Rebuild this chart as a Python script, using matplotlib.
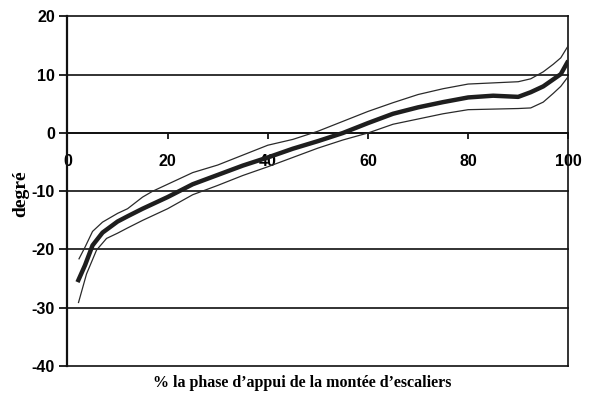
import numpy as np
import matplotlib.pyplot as plt

# moyenne et bandes (+/- écart-type) de l'angle au cours de l'appui
x_moy = [2, 3.5, 5, 7, 10, 12, 15, 20, 25, 30, 35, 40, 45, 50, 55, 60, 65, 70,
         75, 80, 85, 90, 92.5, 95, 97, 98.5, 100]
moy = [-25.6, -22.7, -19.3, -17.1, -15.2, -14.3, -13, -11, -8.8, -7.2, -5.6, -4.2,
       -2.7, -1.4, 0, 1.7, 3.3, 4.4, 5.3, 6.1, 6.4, 6.2, 7, 8, 9.2, 10.1, 12.4]

x_sup = [2.3, 3.5, 5, 7, 10, 12, 15, 17, 20, 25, 30, 35, 40, 45, 50, 55, 60, 65,
         70, 75, 80, 85, 90, 92.5, 95, 97, 98.5, 100]
sup = [-21.6, -19.6, -16.9, -15.3, -13.8, -13, -11, -10, -8.8, -6.8, -5.5, -3.8,
       -2.1, -1.1, 0.3, 2, 3.7, 5.2, 6.6, 7.6, 8.4, 8.6, 8.8, 9.3, 10.5, 11.8, 12.9, 15]

x_inf = [2.2, 3.8, 5.8, 7.8, 10, 12, 15, 20, 25, 30, 35, 40, 45, 50, 55, 60, 65,
         70, 75, 80, 85, 90, 92.5, 95, 97, 98.5, 100]
inf = [-29.1, -24.2, -20.1, -18.1, -17.2, -16.3, -15, -13, -10.6, -9, -7.3, -5.8,
       -4.2, -2.6, -1.2, 0, 1.5, 2.4, 3.3, 4.0, 4.1, 4.2, 4.3, 5.3, 6.8, 8, 9.7]

xticks = [0, 20, 40, 60, 80, 100]
yticks = [-40, -30, -20, -10, 0, 10, 20]

fig = plt.figure(figsize=(5.9, 4.01), dpi=100)
ax = fig.add_axes([0.1144, 0.0873, 0.8488, 0.8716])

for y in yticks:
    ax.axhline(y, color='#222222', lw=1.3, clip_on=False, zorder=1)

ax.plot(x_sup, sup, color='#2a2a2a', lw=0.9, zorder=3)
ax.plot(x_inf, inf, color='#2a2a2a', lw=0.9, zorder=3)
ax.plot(x_moy, moy, color='#1e1e1e', lw=3.2, solid_capstyle='butt', zorder=4)

ax.set_xlim(0, 100)
ax.set_ylim(-40, 20)

ax.spines['top'].set_visible(False)
ax.spines['bottom'].set_position(('data', 0))
ax.spines['bottom'].set_linewidth(1.3)
ax.spines['left'].set_linewidth(1.6)
ax.spines['right'].set_linewidth(1.2)
for s in ax.spines.values():
    s.set_color('#111111')

ax.set_xticks(xticks)
ax.set_xticklabels([str(v) for v in xticks])
ax.set_yticks(yticks)
ax.set_yticklabels([str(v) for v in yticks])
ax.tick_params(axis='x', direction='out', length=4, width=1.2, pad=11)
ax.tick_params(axis='y', direction='out', length=6, width=1.2, pad=3)
for lab in ax.get_xticklabels() + ax.get_yticklabels():
    lab.set_fontfamily('Liberation Sans')
    lab.set_fontweight('bold')
    lab.set_fontsize(11.5)

fig.text(0.036, 0.516, 'degré', rotation=90, ha='center', va='center',
         family='Liberation Serif', fontweight='bold', fontsize=14)
fig.text(0.513, 0.045, '% la phase d’appui de la montée d’escaliers',
         ha='center', va='center', family='Liberation Serif', fontweight='bold',
         fontsize=11.5)

fig.savefig('out.png', dpi=100)
